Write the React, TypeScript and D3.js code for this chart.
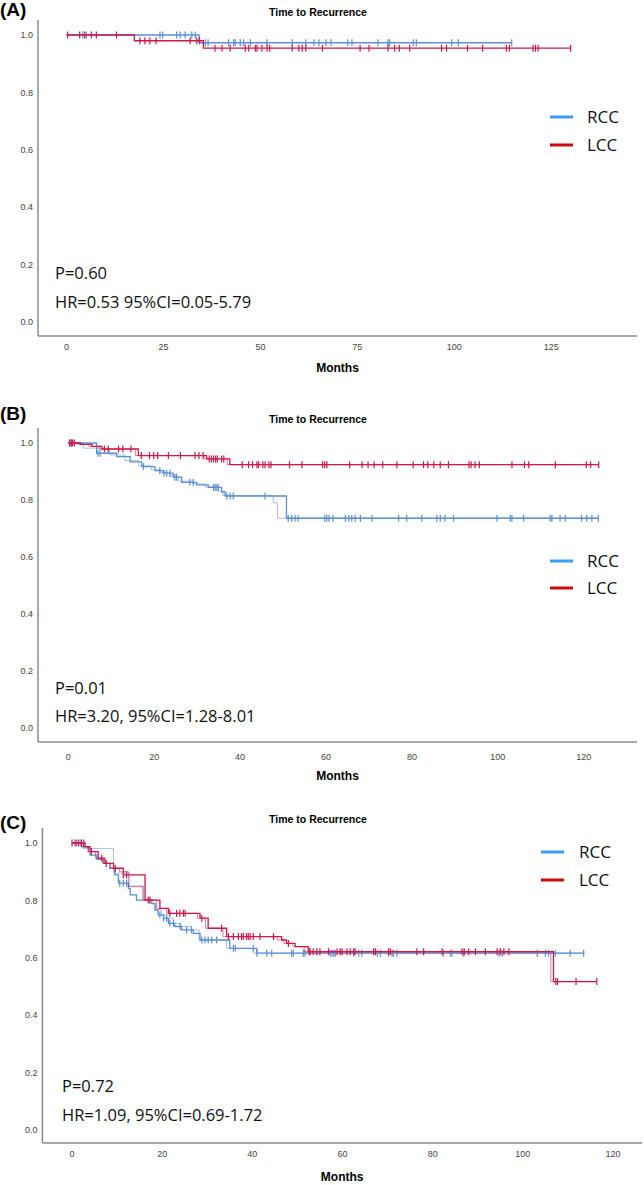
import React from 'react';
import * as d3 from 'd3';

// ---------- data ----------
const panelLabels = ['(A)', '(B)', '(C)'];
const chartTitle = 'Time to Recurrence';
const xAxisTitle = 'Months';
const groups = ['RCC', 'LCC'];
const yTicks = [0, 0.2, 0.4, 0.6, 0.8, 1.0];
const aXTicks = [0, 25, 50, 75, 100, 125];
const bXTicks = [0, 20, 40, 60, 80, 100, 120];
const cXTicks = [0, 20, 40, 60, 80, 100, 120];
const pTexts = ['P=0.60', 'P=0.01', 'P=0.72'];
const hrTexts = ['HR=0.53 95%CI=0.05-5.79', 'HR=3.20, 95%CI=1.28-8.01', 'HR=1.09, 95%CI=0.69-1.72'];

// Panel A
const aRccT = [0, 34.2];
const aRccS = [1, 0.973];
const aRccEnd = 114.8;
const aRccCens = [4.2, 5.1, 24.1, 24.8, 28.4, 29.3, 30.6, 32.3, 33.2, 35.8, 36.5, 41.8, 43.1, 43.5, 44.8, 45.7, 47.4, 51.7, 58.2, 61.7, 63.8, 65.1, 66.9, 68.2, 72.5, 73.6, 80.3, 82.9, 83.3, 89.4, 90.2, 99.3, 101, 114.8];
const aLccT = [0, 17.5, 35.3];
const aLccS = [1, 0.98, 0.954];
const aLccEnd = 130;
const aLccCens = [0.3, 3.4, 4.7, 6.4, 7.7, 12.9, 18.9, 20.2, 21.5, 23.1, 31.9, 33.6, 34.3, 38.3, 40.1, 42.2, 46.1, 47, 48.7, 49.1, 50.4, 51.7, 52.4, 58.2, 59.9, 60.8, 61.7, 66, 75.7, 78, 82.9, 84.6, 85.8, 88.5, 96.7, 98, 103.4, 107.3, 113.4, 114.2, 120.3, 120.9, 121.6, 130];

// Panel B
const bRccT = [0, 6.6, 11.3, 14.4, 17.1, 20.2, 22.1, 24.4, 26.4, 29.9, 32.6, 35.7, 36.5, 50.8];
const bRccS = [1, 0.964, 0.952, 0.934, 0.917, 0.903, 0.894, 0.88, 0.862, 0.853, 0.844, 0.829, 0.814, 0.736];
const bRccGhostT = [0, 3.5, 9.6, 13.2, 16.4, 19.3, 21.5, 23.6, 25.6, 29.0, 31.8, 35.0, 36.0, 47.7, 48.7];
const bRccGhostS = [1, 0.982, 0.958, 0.938, 0.92, 0.906, 0.896, 0.884, 0.866, 0.856, 0.846, 0.83, 0.816, 0.79, 0.736];
const bRccEnd = 123.4;
const bRccCens = [0.4, 0.8, 6.9, 7.4, 17.5, 21.3, 22.3, 22.9, 23.7, 24.8, 25.2, 28.3, 29.1, 33.8, 34.2, 34.6, 34.9, 36.9, 37.7, 38.4, 45.8, 51.2, 52, 52.8, 53.5, 59.7, 60.2, 60.7, 61.6, 64.5, 65.3, 66, 66.8, 68, 70.7, 76.9, 78.8, 82.3, 85.8, 86.6, 87.7, 89.7, 99.8, 102.9, 103.3, 106, 112.2, 112.6, 114.5, 115.7, 119.5, 120.7, 121.9, 123.4];
const bLccT = [0, 2.8, 5.5, 7.8, 16.3, 32.2, 37.6];
const bLccS = [1, 0.995, 0.988, 0.979, 0.956, 0.944, 0.924];
const bLccGhostT = [0, 2.3, 4.8, 7.2, 15.6, 31.6, 37.0];
const bLccGhostS = [1, 0.995, 0.988, 0.979, 0.956, 0.944, 0.924];
const bLccEnd = 123.5;
const bLccCens = [0.3, 0.7, 1.0, 1.4, 8.4, 9.3, 11.7, 12.7, 14.6, 17, 18.9, 19.9, 20.8, 23.3, 26.1, 29.5, 30.4, 31.4, 32.8, 33.3, 33.8, 34.3, 34.7, 35.7, 36.2, 40.5, 42, 42.9, 43.9, 44.3, 45.3, 45.8, 46.7, 47.2, 51.5, 54.4, 59.2, 59.7, 60.2, 65.5, 68.4, 69.8, 71.2, 73.2, 76.5, 80.3, 82.7, 83.7, 85.1, 86.6, 88.5, 93.3, 93.8, 94.7, 95.7, 103.3, 106.2, 107.2, 113.4, 120.6, 121.6, 123.5];

// Panel C
const cRccT = [0, 2.1, 3.6, 4.0, 5.5, 7.0, 8.4, 9.5, 10.3, 12.5, 12.9, 14.3, 17.7, 18.4, 19.1, 20.3, 21.4, 22.8, 24.3, 26.9, 28.4, 35.0, 41.0];
const cRccS = [1, 0.987, 0.97, 0.958, 0.943, 0.929, 0.912, 0.889, 0.86, 0.842, 0.819, 0.801, 0.789, 0.766, 0.749, 0.738, 0.72, 0.709, 0.697, 0.685, 0.662, 0.633, 0.616];
const cRccGhostT = [0, 2.5, 9.2, 12.8, 15.7, 17.2, 18.6, 19.8, 21.0, 22.5, 24.0, 26.5, 28.2, 34.3, 40.3];
const cRccGhostS = [1, 0.981, 0.895, 0.85, 0.805, 0.79, 0.768, 0.75, 0.738, 0.72, 0.709, 0.697, 0.662, 0.633, 0.616];
const cRccEnd = 113.5;
const cRccCens = [1.0, 1.8, 10.6, 11.4, 12.1, 19.5, 20.3, 21.0, 21.7, 22.5, 24.0, 25.4, 26.5, 28.8, 29.5, 30.2, 31.0, 32.1, 35.8, 36.2, 40.2, 41.0, 43.2, 44.3, 48.7, 49.1, 51.3, 51.7, 57.3, 57.7, 58.1, 58.4, 62.5, 63.6, 64.3, 67.7, 68.4, 70.2, 71.0, 71.3, 72.1, 82.4, 83.9, 84.3, 86.9, 94.7, 95.4, 103.2, 105, 105.7, 107.2, 110.5, 113.5];
const cLccT = [0, 2.9, 4.0, 5.8, 7.3, 9.2, 11.4, 16.2, 19.5, 21.4, 28.4, 30.2, 34.3, 46.5, 47.6, 49.5, 52.4, 106.8];
const cLccS = [1, 0.987, 0.97, 0.947, 0.929, 0.912, 0.889, 0.801, 0.772, 0.755, 0.738, 0.703, 0.674, 0.662, 0.65, 0.639, 0.621, 0.517];
const cLccGhostT = [0, 2.5, 3.6, 5.2, 6.8, 8.5, 10.5, 12.5, 15.8, 18.8, 21.0, 27.8, 29.6, 33.5, 45.5, 47.0, 49.0, 51.5, 106.2];
const cLccGhostS = [1, 0.987, 0.97, 0.947, 0.929, 0.912, 0.9, 0.848, 0.801, 0.772, 0.755, 0.738, 0.703, 0.674, 0.662, 0.65, 0.639, 0.621, 0.517];
const cLccEnd = 116.4;
const cLccCens = [0, 0.7, 1.4, 2.1, 2.6, 4.3, 6.6, 7.6, 9.6, 11.4, 12.1, 16.9, 17.3, 21.7, 23.2, 23.9, 24.7, 25.1, 28.8, 33.2, 34.7, 35.8, 36.9, 37.6, 38.0, 38.7, 39.1, 39.5, 40.2, 41.7, 44.7, 48.0, 52.6, 52.8, 53.5, 54.3, 55.0, 56.9, 58.8, 59.5, 59.9, 61.0, 61.7, 62.5, 62.8, 66.9, 67.3, 70.2, 70.6, 76.5, 78.0, 82.1, 86.5, 87.0, 88.0, 89.5, 91.7, 94.3, 95.0, 95.8, 96.9, 107.3, 107.7, 111.8, 116.4];

// ---------- styles / layout ----------
const RCC_LINE = '#5b8fd6';
const LCC_LINE = '#cf1848';
const RCC_LEG = '#3d9cf5';
const LCC_LEG = '#cc0a0a';
const AXIS_COL = '#8c8c8c';

type Curve = { t: number[]; s: number[]; end: number; cens: number[]; gt?: number[]; gs?: number[] };

const panels = [
  {
    label: panelLabels[0], xTicks: aXTicks, p: pTexts[0], hr: hrTexts[0],
    curves: [
      { t: aRccT, s: aRccS, end: aRccEnd, cens: aRccCens },
      { t: aLccT, s: aLccS, end: aLccEnd, cens: aLccCens },
    ] as Curve[],
    L: { axisTop: 20, axisBottom: 336, axisLeft: 38, axisRight: 637, y1: 35, y0: 322, x0: 66.5, xRefVal: 125, xRefPx: 551.3,
      labelY: 16, titleY: 15.5, tickY: 350, monthsY: 372, legY: [117, 145], legX: 550, legTextX: 587, statX: 55, pY: 279, hrY: 308 },
  },
  {
    label: panelLabels[1], xTicks: bXTicks, p: pTexts[1], hr: hrTexts[1],
    curves: [
      { t: bRccT, s: bRccS, end: bRccEnd, cens: bRccCens, gt: bRccGhostT, gs: bRccGhostS },
      { t: bLccT, s: bLccS, end: bLccEnd, cens: bLccCens, gt: bLccGhostT, gs: bLccGhostS },
    ] as Curve[],
    L: { axisTop: 428, axisBottom: 742, axisLeft: 38, axisRight: 637, y1: 443, y0: 728, x0: 68.3, xRefVal: 120, xRefPx: 583.7,
      labelY: 420, titleY: 423, tickY: 760, monthsY: 780, legY: [561, 588], legX: 550, legTextX: 587, statX: 55, pY: 694, hrY: 722 },
  },
  {
    label: panelLabels[2], xTicks: cXTicks, p: pTexts[2], hr: hrTexts[2],
    curves: [
      { t: cRccT, s: cRccS, end: cRccEnd, cens: cRccCens, gt: cRccGhostT, gs: cRccGhostS },
      { t: cLccT, s: cLccS, end: cLccEnd, cens: cLccCens, gt: cLccGhostT, gs: cLccGhostS },
    ] as Curve[],
    L: { axisTop: 828, axisBottom: 1143, axisLeft: 42.4, axisRight: 642, y1: 843, y0: 1130, x0: 72, xRefVal: 120, xRefPx: 613,
      labelY: 829, titleY: 823, tickY: 1157, monthsY: 1181, legY: [852, 880], legX: 541, legTextX: 579, statX: 62, pY: 1092, hrY: 1121 },
  },
];

const lineColors = [RCC_LINE, LCC_LINE];
const legColors = [RCC_LEG, LCC_LEG];

function survAt(t: number[], s: number[], c: number) {
  let v = s[0];
  for (let i = 0; i < t.length; i++) if (t[i] <= c) v = s[i];
  return v;
}

function Panel({ panel }: { panel: typeof panels[number] }) {
  const L = panel.L;
  const x = d3.scaleLinear().domain([0, L.xRefVal]).range([L.x0, L.xRefPx]);
  const y = d3.scaleLinear().domain([0, 1]).range([L.y0, L.y1]);
  const line = d3.line<[number, number]>().x(d => x(d[0])).y(d => y(d[1])).curve(d3.curveStepAfter);
  const pts = (t: number[], s: number[], end: number): [number, number][] => {
    const p = t.map((ti, i) => [ti, s[i]] as [number, number]);
    p.push([end, s[s.length - 1]]);
    return p;
  };
  const fmt = d3.format('.1f');
  const cx = (L.axisLeft + L.axisRight) / 2;
  return (
    <g>
      <text x={0} y={L.labelY} fontFamily="Liberation Sans, Arial, sans-serif" fontWeight="bold" fontSize={19}>{panel.label}</text>
      <text x={318} y={L.titleY} textAnchor="middle" fontFamily="Liberation Sans, Arial, sans-serif" fontWeight="bold" fontSize={10.5}>{chartTitle}</text>
      <line x1={L.axisLeft} x2={L.axisLeft} y1={L.axisTop} y2={L.axisBottom} stroke={AXIS_COL} strokeWidth={1.5} />
      <line x1={L.axisLeft} x2={L.axisRight} y1={L.axisBottom} y2={L.axisBottom} stroke={AXIS_COL} strokeWidth={1.5} />
      {yTicks.map(v => (
        <text key={v} x={L.axisLeft - 5} y={y(v) + 3.2} textAnchor="end" fontFamily="Liberation Sans, Arial, sans-serif" fontSize={9} fill="#444">{fmt(v)}</text>
      ))}
      {panel.xTicks.map(v => (
        <text key={v} x={x(v)} y={L.tickY} textAnchor="middle" fontFamily="Liberation Sans, Arial, sans-serif" fontSize={9} fill="#444">{v}</text>
      ))}
      <text x={cx} y={L.monthsY} textAnchor="middle" fontFamily="Liberation Sans, Arial, sans-serif" fontWeight="bold" fontSize={12}>{xAxisTitle}</text>
      {panel.curves.map((c, gi) => (
        <g key={gi}>
          {c.gt && c.gs && (
            <path d={line(pts(c.gt, c.gs, c.end)) || ''} fill="none" stroke={lineColors[gi]} strokeOpacity={0.55} strokeWidth={1} />
          )}
          <path d={line(pts(c.t, c.s, c.end)) || ''} fill="none" stroke={lineColors[gi]} strokeWidth={1.3} />
          {c.cens.map((cv, i) => {
            const yy = y(survAt(c.t, c.s, cv));
            return <line key={i} x1={x(cv)} x2={x(cv)} y1={yy - 3.5} y2={yy + 3.5} stroke={lineColors[gi]} strokeWidth={1.2} />;
          })}
        </g>
      ))}
      {groups.map((g, gi) => (
        <g key={g}>
          <line x1={L.legX} x2={L.legX + 23} y1={L.legY[gi]} y2={L.legY[gi]} stroke={legColors[gi]} strokeWidth={3} />
          <text x={L.legTextX} y={L.legY[gi] + 6} fontFamily="Open Sans, Noto Sans, sans-serif" fontSize={17} fill="#111">{g}</text>
        </g>
      ))}
      <text x={L.statX} y={L.pY} fontFamily="Open Sans, Noto Sans, sans-serif" fontSize={16.5} fill="#111">{panel.p}</text>
      <text x={L.statX} y={L.hrY} fontFamily="Open Sans, Noto Sans, sans-serif" fontSize={16.5} fill="#111">{panel.hr}</text>
    </g>
  );
}

export default function App() {
  return (
    <svg width={644} height={1185} style={{ position: 'absolute', left: 0, top: 0, background: '#fff' }}>
      <rect width={644} height={1185} fill="#fff" />
      {panels.map((p, i) => <Panel key={i} panel={p} />)}
    </svg>
  );
}
